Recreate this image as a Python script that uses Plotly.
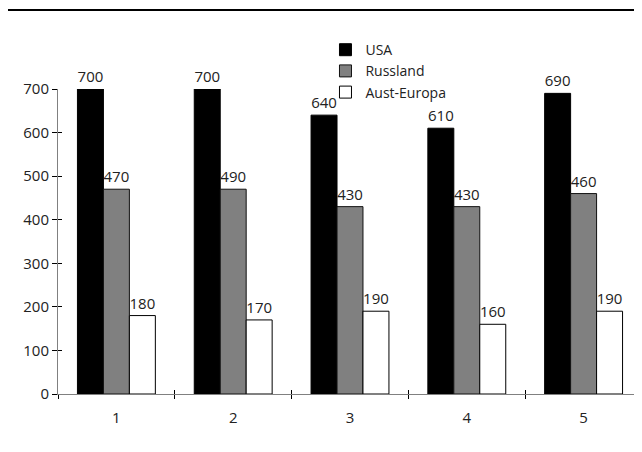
import plotly.graph_objects as go

categories = ["1", "2", "3", "4", "5"]
usa = [700, 700, 640, 610, 690]
russland = [470, 470, 430, 430, 460]
russland_labels = ["470", "490", "430", "430", "460"]
aust_europa = [180, 170, 190, 160, 190]
y_ticks = [0, 100, 200, 300, 400, 500, 600, 700]

FONT = "Open Sans"
TXT = "#222222"
FS = 15

fig = go.Figure()
common = dict(textposition="outside", cliponaxis=False, constraintext="none",
              textfont=dict(family=FONT, size=FS, color=TXT))
fig.add_trace(go.Bar(name="USA", x=categories, y=usa, text=[str(v) for v in usa],
                     marker=dict(color="#000000", line=dict(color="#000000", width=1)), **common))
fig.add_trace(go.Bar(name="Russland", x=categories, y=russland, text=russland_labels,
                     marker=dict(color="#808080", line=dict(color="#111111", width=1)), **common))
fig.add_trace(go.Bar(name="Aust-Europa", x=categories, y=aust_europa, text=[str(v) for v in aust_europa],
                     marker=dict(color="#ffffff", line=dict(color="#000000", width=1)), **common))

fig.update_layout(
    width=634, height=444,
    margin=dict(l=50, r=0, t=81, b=58),
    paper_bgcolor="white", plot_bgcolor="white",
    font=dict(family=FONT, size=FS, color=TXT),
    barmode="group", bargap=0.333, bargroupgap=0,
    showlegend=True,
    legend=dict(x=0.458, y=1.18, xanchor="left", yanchor="top",
                bgcolor="rgba(0,0,0,0)", font=dict(family=FONT, size=14, color=TXT),
                itemwidth=30, tracegroupgap=0),
    xaxis=dict(type="category", showgrid=False, showline=True, linecolor="#808080", linewidth=1,
               ticks="outside", ticklen=4, tickcolor="#000000", tickson="boundaries",
               ticklabelstandoff=10,
               tickfont=dict(family=FONT, size=FS, color=TXT), zeroline=False),
    yaxis=dict(range=[0, 700], tickvals=y_ticks, showgrid=False, showline=True,
               linecolor="#808080", linewidth=1, ticks="outside", ticklen=5,
               tickcolor="#000000", tickfont=dict(family=FONT, size=FS, color=TXT),
               zeroline=False, fixedrange=True),
    xaxis2=dict(overlaying="x", anchor="y2", range=[-0.5, 4.5], type="linear",
                tickvals=[-0.5, 0.5, 1.5, 2.5, 3.5, 4.5], ticks="inside", ticklen=4,
                tickcolor="#000000", showticklabels=False, showgrid=False, showline=False,
                zeroline=False),
    yaxis2=dict(overlaying="y", anchor="x2", range=[0, 700], tickvals=y_ticks,
                ticks="inside", ticklen=4, tickcolor="#000000", showticklabels=False,
                showgrid=False, showline=False, zeroline=False),
    shapes=[dict(type="line", xref="paper", yref="paper",
                 x0=-52 / 584, x1=1.0, y0=1 + 79 / 305, y1=1 + 79 / 305,
                 line=dict(color="#000000", width=2))],
)
fig.add_trace(go.Scatter(x=[None], y=[None], xaxis="x2", yaxis="y2", showlegend=False, hoverinfo="skip"))

fig.write_html("out.html")
